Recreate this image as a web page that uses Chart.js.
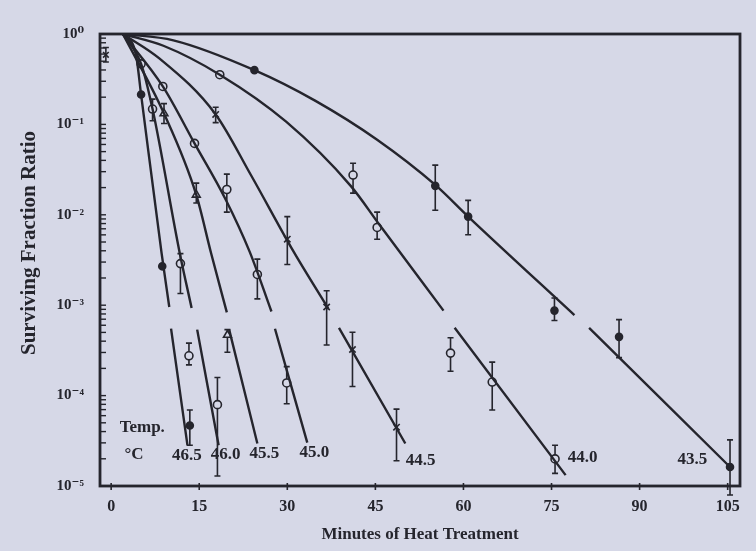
<!DOCTYPE html>
<html><head><meta charset="utf-8">
<script src="https://cdn.jsdelivr.net/npm/chart.js@4.4.1/dist/chart.umd.min.js"></script>
<style>html,body{margin:0;padding:0;background:#d6d8e7;}#wrap{width:756px;height:551px;}</style>
</head><body><div id="wrap"><canvas id="c" width="756" height="551"></canvas></div>
<script>
// ---------- data ----------
// time in minutes, value = log10(surviving fraction); a null value marks a break in the drawn curve
const temperatures = ['46.5', '46.0', '45.5', '45.0', '44.5', '44.0', '43.5'];

const fit465 = [[2.0,0],[4.2,-0.22],[5.1,-0.67],[8.6,-2.43],[9.9,-3.02],[10.05,null],[10.2,-3.26],[13.0,-4.55]];
const fit460 = [[2.0,0],[5.1,-0.33],[7.05,-0.83],[11.7,-2.43],[13.7,-3.03],[14.2,null],[14.65,-3.27],[18.3,-4.55]];
const fit455 = [[2.0,0],[9.0,-0.88],[14.5,-1.78],[17.0,-2.42],[19.7,-3.08],[19.9,null],[20.1,-3.27],[24.9,-4.53]];
const fit450 = [[2.0,0],[8.8,-0.58],[14.2,-1.21],[19.5,-1.83],[23.6,-2.41],[27.3,-3.07],[27.6,null],[27.9,-3.26],[33.4,-4.52]];
const fit445 = [[2.0,0],[8.2,-0.27],[17.8,-0.89],[23.8,-1.56],[31.0,-2.40],[37.0,-3.04],[37.9,null],[38.8,-3.25],[50.1,-4.53]];
const fit440 = [[2.0,0],[8.9,-0.13],[18.5,-0.45],[29.8,-0.97],[40.8,-1.68],[45.7,-2.11],[56.6,-3.06],[57.6,null],[58.5,-3.25],[77.4,-4.88]];
const fit435 = [[2.0,0],[10.6,-0.07],[24.4,-0.40],[34.8,-0.74],[45.3,-1.17],[55.2,-1.67],[60.8,-2.02],[78.9,-3.11],[80.1,null],[81.4,-3.25],[105.4,-4.79]];

// observations: [time, log10 S, log10 lower bar, log10 upper bar]
const obs465 = [[5.1,-0.67,null,null],[8.7,-2.57,null,null],[13.4,-4.33,-4.55,-4.16]];
const obs460 = [[5.1,-0.33,null,null],[7.05,-0.83,-0.96,-0.72],[11.8,-2.54,-2.87,-2.43],[13.25,-3.56,-3.66,-3.42],[18.1,-4.10,-4.89,-3.80]];
const obs455 = [[9.0,-0.88,-0.99,-0.77],[14.5,-1.78,-1.87,-1.65],[19.8,-3.33,-3.52,-3.27]];
const obs450 = [[8.8,-0.58,null,null],[14.2,-1.21,null,null],[19.7,-1.72,-1.97,-1.55],[24.9,-2.66,-2.93,-2.49],[29.9,-3.86,-4.09,-3.68]];
const obs445 = [[17.8,-0.89,-0.98,-0.81],[30.0,-2.27,-2.55,-2.02],[36.7,-3.02,-3.44,-2.84],[41.1,-3.49,-3.90,-3.30],[48.6,-4.35,-4.72,-4.15]];
const obs440 = [[18.5,-0.45,null,null],[41.2,-1.56,-1.76,-1.43],[45.3,-2.14,-2.27,-1.97],[57.8,-3.53,-3.73,-3.36],[64.9,-3.85,-4.16,-3.63],[75.6,-4.70,-4.86,-4.55]];
const obs435 = [[24.4,-0.40,null,null],[55.2,-1.68,-1.95,-1.45],[60.8,-2.02,-2.22,-1.84],[75.5,-3.06,-3.17,-2.92],[86.5,-3.35,-3.58,-3.16],[105.4,-4.79,-5.10,-4.49]];
const obsControl = [[-0.9,-0.23,-0.31,-0.15]];

const xTickValues = [0, 15, 30, 45, 60, 75, 90, 105];
const xTickLabels = ['0', '15', '30', '45', '60', '75', '90', '105'];
const yTickValues = [1e-5, 1e-4, 1e-3, 1e-2, 1e-1, 1];
const yTickLabels = ['10\u207B\u2075', '10\u207B\u2074', '10\u207B\u00B3', '10\u207B\u00B2', '10\u207B\u00B9', '10\u2070'];

// curve labels: [text, time, log10 S]
const curveLabels = [['46.5',12.9,-4.66],['46.0',19.5,-4.65],['45.5',26.1,-4.64],['45.0',34.6,-4.63],
                     ['44.5',52.7,-4.72],['44.0',80.3,-4.69],['43.5',99.0,-4.71]];
const legendText = [['Temp.',5.3,-4.35],['\u00B0C',3.9,-4.65]];

// ---------- styling ----------
const BG = '#d6d8e7';
const INK = '#25252d';
const SERIF = "'Liberation Serif', 'DejaVu Serif', serif";
const fits = [fit465, fit460, fit455, fit450, fit445, fit440, fit435];
const observations = [obs465, obs460, obs455, obs450, obs445, obs440, obs435];
const markerStyle = [
  {pointStyle:'circle', fill:INK, r:3.5},
  {pointStyle:'circle', fill:BG, r:4},
  {pointStyle:'triangle', fill:BG, r:4.5},
  {pointStyle:'circle', fill:BG, r:4},
  {pointStyle:'crossRot', fill:INK, r:4.5},
  {pointStyle:'circle', fill:BG, r:4},
  {pointStyle:'circle', fill:INK, r:3.5}
];

const toPts = rows => rows.map(r => ({x: r[0], y: r[1] === null ? null : Math.pow(10, r[1])}));

const datasets = [];
fits.forEach((f, i) => {
  datasets.push({
    label: temperatures[i] + ' fit', data: toPts(f), showLine: true, spanGaps: false,
    borderColor: INK, borderWidth: 2.4, pointRadius: 0, cubicInterpolationMode: 'monotone', fill: false
  });
});
observations.forEach((o, i) => {
  datasets.push({
    label: temperatures[i] + ' data', data: toPts(o), showLine: false,
    pointStyle: markerStyle[i].pointStyle, pointRadius: markerStyle[i].r,
    pointBackgroundColor: markerStyle[i].fill, pointBorderColor: INK, pointBorderWidth: 1.6, clip: false
  });
});
datasets.push({label:'control', data: toPts(obsControl), showLine:false, pointStyle:'crossRot',
  pointRadius:4, pointBorderColor:INK, pointBorderWidth:1.6, clip:false});

const allObs = observations.concat([obsControl]);
const yMinor = [];
for (let e = -5; e < 0; e++) for (let k = 1; k < 10; k++) yMinor.push(k * Math.pow(10, e));
yMinor.push(1);

const decor = {
  id: 'decor',
  beforeDraw(chart) {
    const c = chart.ctx; c.save(); c.fillStyle = BG; c.fillRect(0, 0, chart.width, chart.height); c.restore();
  },
  beforeDatasetsDraw(chart) {
    const c = chart.ctx, xs = chart.scales.x, ys = chart.scales.y;
    c.save(); c.strokeStyle = INK; c.lineWidth = 1.6;
    allObs.forEach(set => set.forEach(r => {
      if (r[2] === null) return;
      const px = xs.getPixelForValue(r[0]);
      const p1 = ys.getPixelForValue(Math.pow(10, r[2]));
      const p2 = ys.getPixelForValue(Math.pow(10, r[3]));
      c.beginPath(); c.moveTo(px, p1); c.lineTo(px, p2);
      c.moveTo(px - 3, p1); c.lineTo(px + 3, p1);
      c.moveTo(px - 3, p2); c.lineTo(px + 3, p2);
      c.stroke();
    }));
    c.restore();
  },
  afterDraw(chart) {
    const c = chart.ctx, a = chart.chartArea, xs = chart.scales.x, ys = chart.scales.y;
    c.save();
    // frame
    c.strokeStyle = INK; c.lineWidth = 2.8;
    c.strokeRect(a.left, a.top, a.right - a.left, a.bottom - a.top);
    // y ticks (inside)
    c.lineWidth = 1.4;
    yMinor.forEach(v => {
      const py = ys.getPixelForValue(v);
      c.beginPath(); c.moveTo(a.left, py); c.lineTo(a.left + 6, py); c.stroke();
    });
    // x ticks
    c.lineWidth = 1.6;
    xTickValues.forEach(v => {
      const px = xs.getPixelForValue(v);
      c.beginPath(); c.moveTo(px, a.bottom - 3); c.lineTo(px, a.bottom + 4); c.stroke();
    });
    // curve labels
    c.fillStyle = INK; c.textAlign = 'center'; c.textBaseline = 'middle';
    c.font = 'bold 17px ' + SERIF;
    curveLabels.forEach(l => c.fillText(l[0], xs.getPixelForValue(l[1]), ys.getPixelForValue(Math.pow(10, l[2]))));
    legendText.forEach(l => c.fillText(l[0], xs.getPixelForValue(l[1]), ys.getPixelForValue(Math.pow(10, l[2]))));
    // y title
    c.translate(30, 243); c.rotate(-Math.PI / 2);
    c.font = 'bold 21px ' + SERIF;
    c.fillText('Surviving Fraction Ratio', 0, 0);
    c.restore();
  }
};

new Chart(document.getElementById('c'), {
  type: 'scatter',
  data: { datasets },
  options: {
    responsive: false, animation: false, devicePixelRatio: 1,
    layout: { padding: { left: 0, right: 16, top: 34, bottom: 0 } },
    plugins: { legend: { display: false }, tooltip: { enabled: false } },
    scales: {
      x: {
        type: 'linear', min: -1.9, max: 107.1,
        afterBuildTicks: s => { s.ticks = xTickValues.map(v => ({ value: v })); },
        afterFit: s => { s.height = 65; },
        grid: { display: false, drawTicks: false }, border: { display: false },
        ticks: { autoSkip: false, maxRotation: 0, padding: 11, color: INK,
                 font: { family: SERIF, size: 16, weight: 'bold' },
                 callback: (v, i) => xTickLabels[i] },
        title: { display: true, text: 'Minutes of Heat Treatment', color: INK,
                 font: { family: SERIF, size: 17, weight: 'bold' }, padding: { top: 0, bottom: 6 } }
      },
      y: {
        type: 'logarithmic', min: 1e-5, max: 1,
        afterBuildTicks: s => { s.ticks = yTickValues.map(v => ({ value: v })); },
        afterFit: s => { s.width = 100; },
        grid: { display: false, drawTicks: false }, border: { display: false },
        ticks: { autoSkip: false, padding: 16, color: INK,
                 font: { family: SERIF, size: 15, weight: 'bold' },
                 callback: (v, i) => yTickLabels[i] }
      }
    }
  },
  plugins: [decor]
});
</script></body></html>
